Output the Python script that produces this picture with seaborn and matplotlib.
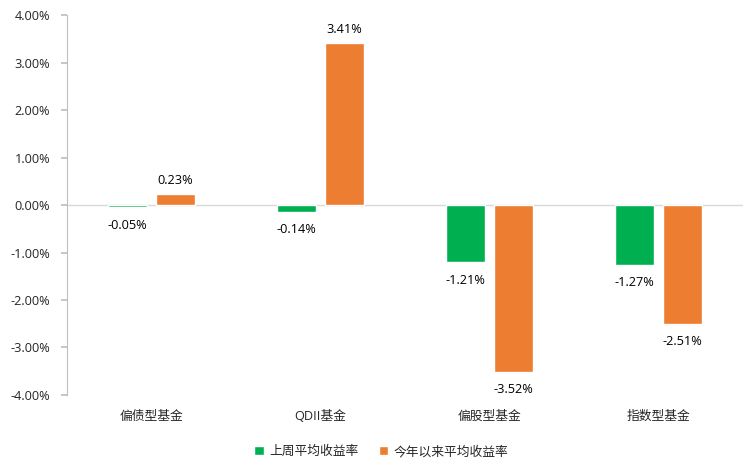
import matplotlib
matplotlib.use("Agg")
import matplotlib.pyplot as plt
import seaborn as sns
import pandas as pd
from matplotlib.patches import Patch

categories = ["偏债型基金", "QDII基金", "偏股型基金", "指数型基金"]
series_names = ["上周平均收益率", "今年以来平均收益率"]
week_vals = [-0.05, -0.14, -1.21, -1.27]
ytd_vals = [0.23, 3.41, -3.52, -2.51]
yticks = [-4, -3, -2, -1, 0, 1, 2, 3, 4]
colors = ["#00B050", "#ED7D31"]

sns.set_theme(style="white")
plt.rcParams['font.family'] = ['Open Sans', 'Noto Sans CJK SC', 'DejaVu Sans']

df = pd.DataFrame({
    "cat": categories * 2,
    "series": [series_names[0]] * 4 + [series_names[1]] * 4,
    "val": week_vals + ytd_vals,
})

fig = plt.figure(figsize=(7.55, 4.73), dpi=100)
ax = fig.add_axes([0.0887, 0.165, 0.895, 0.803])
sns.barplot(data=df, x="cat", y="val", hue="series", hue_order=series_names,
            order=categories, palette=colors, width=0.568, gap=0.19,
            saturation=1, ax=ax, legend=False, errorbar=None)

fs = 9.2
for cont in ax.containers:
    for bar in cont:
        h = bar.get_height()
        x = bar.get_x() + bar.get_width() / 2
        if h >= 0:
            ax.annotate(f"{h:.2f}%", (x, h), xytext=(0, 5), textcoords="offset points",
                        ha="center", va="bottom", fontsize=fs, color="#000000")
        else:
            ax.annotate(f"{h:.2f}%", (x, h), xytext=(0, -8), textcoords="offset points",
                        ha="center", va="top", fontsize=fs, color="#000000")

ax.set_ylim(-4, 4)
ax.set_xlim(-0.5, 3.5)
ax.set_yticks(yticks)
ax.set_yticklabels([f"{v:.2f}%" for v in yticks], fontsize=fs)
ax.set_xticklabels(categories, fontsize=fs)
ax.set_xlabel("")
ax.set_ylabel("")
ax.axhline(0, color="#D9D9D9", lw=1, zorder=0)
for s in ["top", "right", "bottom"]:
    ax.spines[s].set_visible(False)
ax.spines["left"].set_color("#BFBFBF")
ax.spines["left"].set_linewidth(0.8)
ax.tick_params(axis="y", which="both", left=True, length=4, color="#BFBFBF", pad=8)
ax.tick_params(axis="x", length=0, pad=11)

handles = [Patch(facecolor=c, label=n) for c, n in zip(colors, series_names)]
fig.legend(handles=handles, loc="center", bbox_to_anchor=(0.505, 0.045), ncol=2,
           frameon=False, fontsize=fs, handlelength=0.75, handleheight=0.75,
           handletextpad=0.4, columnspacing=1.6)

fig.savefig("out.png", dpi=100)
